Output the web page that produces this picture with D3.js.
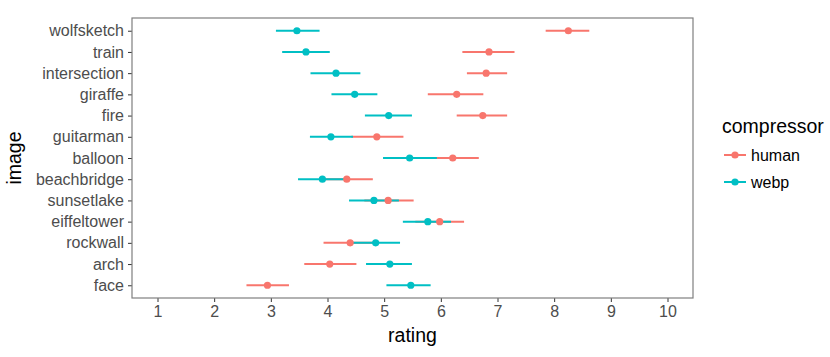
<!DOCTYPE html>
<html>
<head>
<meta charset="utf-8">
<script src="https://cdn.jsdelivr.net/npm/d3@7"></script>
<style>
  body { margin: 0; background: #fff; }
  text { font-family: "Liberation Sans", Arial, sans-serif; }
</style>
</head>
<body>
<div id="chart"></div>
<script>
var images = ["wolfsketch", "train", "intersection", "giraffe", "fire", "guitarman",
  "balloon", "beachbridge", "sunsetlake", "eiffeltower", "rockwall", "arch", "face"];

// human compressor: mean rating and interval
var humanMean = [8.25, 6.85, 6.80, 6.28, 6.74, 4.87, 6.21, 4.34, 5.07, 5.98, 4.40, 4.04, 2.94];
var humanLo   = [7.85, 6.38, 6.46, 5.77, 6.28, 4.42, 5.75, 3.95, 4.65, 5.55, 3.93, 3.59, 2.57];
var humanHi   = [8.62, 7.30, 7.17, 6.75, 7.17, 5.34, 6.67, 4.80, 5.52, 6.41, 4.85, 4.51, 3.32];

// webp compressor
var webpMean = [3.46, 3.62, 4.15, 4.48, 5.08, 4.06, 5.45, 3.91, 4.82, 5.77, 4.85, 5.10, 5.47];
var webpLo   = [3.09, 3.20, 3.70, 4.07, 4.66, 3.69, 4.98, 3.48, 4.38, 5.33, 4.43, 4.68, 5.04];
var webpHi   = [3.86, 4.04, 4.58, 4.88, 5.49, 4.45, 5.93, 4.32, 5.26, 6.18, 5.28, 5.49, 5.82];

var xTicks = [1, 2, 3, 4, 5, 6, 7, 8, 9, 10];
var series = ["human", "webp"];
var colors = ["#F8766D", "#00BFC4"];

var W = 830, H = 357;
var margin = {top: 18, right: 137, bottom: 59, left: 132};
var width = W - margin.left - margin.right;
var height = H - margin.top - margin.bottom;

var svg = d3.select("#chart").append("svg")
  .attr("width", W)
  .attr("height", H);

var x = d3.scaleLinear().domain([0.55, 10.45]).range([0, width]);
var y = d3.scalePoint().domain(images).range([0, height]).padding(0.6);

var color = d3.scaleOrdinal().domain(series).range(colors);

var g = svg.append("g")
  .attr("transform", "translate(" + margin.left + "," + margin.top + ")");

// build rows
var rows = [];
series.forEach(function(s) {
  var m = s == "human" ? humanMean : webpMean;
  var lo = s == "human" ? humanLo : webpLo;
  var hi = s == "human" ? humanHi : webpHi;
  images.forEach(function(im, i) {
    rows.push({image: im, comp: s, mean: m[i], lo: lo[i], hi: hi[i]});
  });
});

// axes
var xAxis = g.append("g")
  .attr("transform", "translate(0," + height + ")")
  .call(d3.axisBottom(x).tickValues(xTicks).tickSize(4).tickPadding(3));
var yAxis = g.append("g")
  .call(d3.axisLeft(y).tickSize(4).tickPadding(4));

[xAxis, yAxis].forEach(function(a) {
  a.select(".domain").remove();
  a.selectAll(".tick line").attr("stroke", "#333333").attr("stroke-width", 1);
  a.selectAll(".tick text")
    .attr("fill", "#4D4D4D")
    .style("font-size", "16px");
});
xAxis.selectAll(".tick text").attr("dy", "0.75em");

// intervals first, then points
g.selectAll(".range")
  .data(rows)
  .enter()
  .append("line")
  .attr("class", "range")
  .attr("x1", function(d) { return x(d.lo); })
  .attr("x2", function(d) { return x(d.hi); })
  .attr("y1", function(d) { return y(d.image); })
  .attr("y2", function(d) { return y(d.image); })
  .attr("stroke", function(d) { return color(d.comp); })
  .attr("stroke-width", 2);

g.selectAll(".pt")
  .data(rows)
  .enter()
  .append("circle")
  .attr("class", "pt")
  .attr("cx", function(d) { return x(d.mean); })
  .attr("cy", function(d) { return y(d.image); })
  .attr("r", 3.6)
  .attr("fill", function(d) { return color(d.comp); });

// panel border
g.append("rect")
  .attr("x", 0).attr("y", 0)
  .attr("width", width).attr("height", height)
  .attr("fill", "none")
  .attr("stroke", "#7F7F7F")
  .attr("stroke-width", 1.2);

// axis titles
svg.append("text")
  .attr("x", margin.left + width / 2)
  .attr("y", 342)
  .attr("text-anchor", "middle")
  .style("font-size", "19.5px")
  .text("rating");

svg.append("text")
  .attr("transform", "translate(21," + (margin.top + height / 2) + ") rotate(-90)")
  .attr("text-anchor", "middle")
  .style("font-size", "19.5px")
  .text("image");

// legend
var legend = svg.append("g").attr("transform", "translate(722,0)");
legend.append("text")
  .attr("x", 0)
  .attr("y", 133)
  .style("font-size", "19.5px")
  .text("compressor");

var items = legend.selectAll(".legend")
  .data(series)
  .enter()
  .append("g")
  .attr("class", "legend")
  .attr("transform", function(d, i) { return "translate(0," + (155 + i * 27) + ")"; });

items.append("line")
  .attr("x1", 2).attr("x2", 24)
  .attr("stroke", function(d) { return color(d); })
  .attr("stroke-width", 2);
items.append("circle")
  .attr("cx", 13).attr("cy", 0).attr("r", 3.6)
  .attr("fill", function(d) { return color(d); });
items.append("text")
  .attr("x", 29)
  .attr("dy", "0.35em")
  .style("font-size", "16px")
  .text(function(d) { return d; });
</script>
</body>
</html>
